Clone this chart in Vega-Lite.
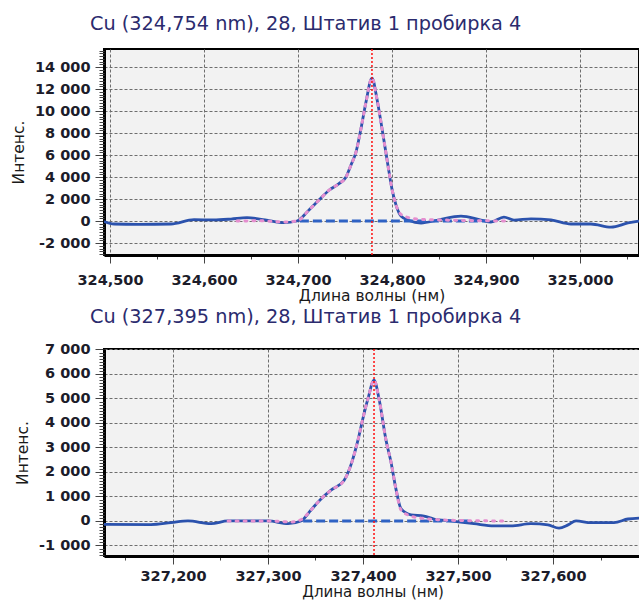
{
  "$schema": "https://vega.github.io/schema/vega-lite/v6.json",
  "padding": {"left": 10, "top": 13, "right": 0, "bottom": 0},
  "background": "#ffffff",
  "datasets": {
    "s1": [
      {"nm": 324.4936, "i": -50}, {"nm": 324.5043, "i": -270}, {"nm": 324.53, "i": -300}, {"nm": 324.5649, "i": -270},
      {"nm": 324.5894, "i": 120}, {"nm": 324.61, "i": 100}, {"nm": 324.6287, "i": 180}, {"nm": 324.6457, "i": 300},
      {"nm": 324.665, "i": 100}, {"nm": 324.6851, "i": -150}, {"nm": 324.6989, "i": 0}, {"nm": 324.7117, "i": 1000},
      {"nm": 324.7223, "i": 1900}, {"nm": 324.733, "i": 2800}, {"nm": 324.7436, "i": 3400}, {"nm": 324.7511, "i": 4000},
      {"nm": 324.7564, "i": 5100}, {"nm": 324.7617, "i": 6270}, {"nm": 324.767, "i": 8400}, {"nm": 324.7723, "i": 10800},
      {"nm": 324.7787, "i": 13000}, {"nm": 324.784, "i": 11100}, {"nm": 324.7894, "i": 8400}, {"nm": 324.7947, "i": 5600},
      {"nm": 324.8, "i": 2900}, {"nm": 324.8043, "i": 1450}, {"nm": 324.8096, "i": 450}, {"nm": 324.8181, "i": 50},
      {"nm": 324.8309, "i": -180}, {"nm": 324.8489, "i": 90}, {"nm": 324.8734, "i": 450}, {"nm": 324.8947, "i": 90},
      {"nm": 324.9053, "i": -90}, {"nm": 324.9191, "i": 360}, {"nm": 324.9298, "i": 90}, {"nm": 324.9479, "i": 200},
      {"nm": 324.9691, "i": 100}, {"nm": 324.9904, "i": -270}, {"nm": 325.0117, "i": -270}, {"nm": 325.033, "i": -550},
      {"nm": 325.0511, "i": -180}, {"nm": 325.0628, "i": 0}
    ],
    "f1": [
      {"nm": 324.635, "i": 0}, {"nm": 324.66, "i": 20}, {"nm": 324.685, "i": -90}, {"nm": 324.6989, "i": 0},
      {"nm": 324.7117, "i": 1000}, {"nm": 324.7223, "i": 1900}, {"nm": 324.733, "i": 2800}, {"nm": 324.7436, "i": 3400},
      {"nm": 324.7511, "i": 4000}, {"nm": 324.7564, "i": 5100}, {"nm": 324.7617, "i": 6270}, {"nm": 324.767, "i": 8400},
      {"nm": 324.7723, "i": 10800}, {"nm": 324.7787, "i": 13000}, {"nm": 324.784, "i": 11100}, {"nm": 324.7894, "i": 8400},
      {"nm": 324.7947, "i": 5600}, {"nm": 324.8, "i": 2900}, {"nm": 324.8043, "i": 1450}, {"nm": 324.8096, "i": 600},
      {"nm": 324.8181, "i": 300}, {"nm": 324.8309, "i": 150}, {"nm": 324.85, "i": 100}, {"nm": 324.875, "i": 50},
      {"nm": 324.9, "i": 20}, {"nm": 324.925, "i": 0}
    ],
    "b1": [{"nm": 324.702, "i": 0}, {"nm": 324.9, "i": 0}],
    "m1": [{"nm": 324.7787}],
    "s2": [
      {"nm": 327.1274, "i": -135}, {"nm": 327.1768, "i": -150}, {"nm": 327.1979, "i": -70}, {"nm": 327.2158, "i": 0},
      {"nm": 327.24, "i": -110}, {"nm": 327.2579, "i": 0}, {"nm": 327.3, "i": 0}, {"nm": 327.3211, "i": -110},
      {"nm": 327.3347, "i": 0}, {"nm": 327.3453, "i": 450}, {"nm": 327.3558, "i": 900}, {"nm": 327.3663, "i": 1260},
      {"nm": 327.38, "i": 1650}, {"nm": 327.3874, "i": 2300}, {"nm": 327.3947, "i": 3300}, {"nm": 327.4, "i": 4200},
      {"nm": 327.4053, "i": 5000}, {"nm": 327.4116, "i": 5750}, {"nm": 327.4168, "i": 5000}, {"nm": 327.4242, "i": 3300},
      {"nm": 327.4295, "i": 2400}, {"nm": 327.4347, "i": 1300}, {"nm": 327.44, "i": 500}, {"nm": 327.4505, "i": 250},
      {"nm": 327.4642, "i": 200}, {"nm": 327.4747, "i": 80}, {"nm": 327.4926, "i": 0}, {"nm": 327.5168, "i": -110},
      {"nm": 327.5379, "i": -200}, {"nm": 327.5558, "i": -200}, {"nm": 327.5768, "i": -110}, {"nm": 327.5947, "i": -160},
      {"nm": 327.6063, "i": -290}, {"nm": 327.6158, "i": -160}, {"nm": 327.6242, "i": 0}, {"nm": 327.64, "i": -70},
      {"nm": 327.6642, "i": -70}, {"nm": 327.6789, "i": 80}, {"nm": 327.6926, "i": 120}
    ],
    "f2": [
      {"nm": 327.258, "i": 0}, {"nm": 327.3, "i": 0}, {"nm": 327.325, "i": -40}, {"nm": 327.3347, "i": 50},
      {"nm": 327.3453, "i": 450}, {"nm": 327.3558, "i": 900}, {"nm": 327.3663, "i": 1260}, {"nm": 327.38, "i": 1650},
      {"nm": 327.3874, "i": 2300}, {"nm": 327.3947, "i": 3300}, {"nm": 327.4, "i": 4200}, {"nm": 327.4053, "i": 5000},
      {"nm": 327.4116, "i": 5750}, {"nm": 327.4168, "i": 5000}, {"nm": 327.4242, "i": 3300}, {"nm": 327.4295, "i": 2400},
      {"nm": 327.4347, "i": 1300}, {"nm": 327.44, "i": 450}, {"nm": 327.4505, "i": 200}, {"nm": 327.4642, "i": 100},
      {"nm": 327.48, "i": 50}, {"nm": 327.5, "i": 20}, {"nm": 327.553, "i": 0}
    ],
    "b2": [{"nm": 327.337, "i": 0}, {"nm": 327.514, "i": 0}],
    "m2": [{"nm": 327.4116}]
  },
  "config": {
    "font": "DejaVu Sans",
    "view": {"stroke": "#000000", "strokeWidth": 2, "fill": "#f2f2f2"},
    "axis": {
      "domainColor": "#000000", "domainWidth": 3, "tickColor": "#444444", "tickWidth": 1,
      "gridColor": "#6e6e6e", "gridDash": [3, 2], "gridWidth": 1,
      "labelFont": "DejaVu Sans", "labelFontSize": 14.5, "labelFontWeight": "bold", "labelColor": "#1c1c2a",
      "titleFont": "DejaVu Sans", "titleFontSize": 15.5, "titleFontWeight": "normal", "titleColor": "#1a1a1a",
      "labelOverlap": false, "labelFlush": false, "labelBound": false
    },
    "title": {"font": "DejaVu Sans", "fontSize": 19.3, "fontWeight": "normal", "color": "#2b2b6e", "anchor": "start", "frame": "group", "dx": -14, "offset": 14},
    "concat": {"spacing": 2}
  },
  "vconcat": [
    {
      "title": "Cu (324,754 nm), 28, Штатив 1 пробирка 4",
      "width": 535,
      "height": 206,
      "resolve": {"axis": {"y": "independent"}},
      "layer": [
        {
          "data": {"name": "s1"},
          "mark": {"type": "line", "color": "#2b52ad", "strokeWidth": 2.8, "interpolate": "monotone", "clip": true},
          "encoding": {
            "x": {"field": "nm", "type": "quantitative", "scale": {"domain": [324.4936, 325.0628], "nice": false, "zero": false},
              "axis": {
                "title": "Длина волны (нм)", "titlePadding": 2, "labelOverlap": false,
                "values": [324.5, 324.525, 324.55, 324.575, 324.6, 324.625, 324.65, 324.675, 324.7, 324.725, 324.75, 324.775, 324.8, 324.825, 324.85, 324.875, 324.9, 324.925, 324.95, 324.975, 325.0, 325.025, 325.05],
                "labelExpr": "abs(datum.value*10 - round(datum.value*10)) < 0.01 ? replace(format(datum.value, '.3f'), '.', ',') : ''",
                "gridOpacity": {"condition": {"test": "abs(datum.value*10 - round(datum.value*10)) < 0.01", "value": 1}, "value": 0},
                "tickSize": {"condition": {"test": "abs(datum.value*10 - round(datum.value*10)) < 0.01", "value": 8}, "value": 4},
                "labelPadding": 10
              }},
            "y": {"field": "i", "type": "quantitative", "scale": {"domain": [-3090, 15640], "nice": false, "zero": false},
              "axis": {
                "orient": "left", "title": "Интенс.", "titlePadding": 8, "labelOverlap": false,
                "values": [-2000, 0, 2000, 4000, 6000, 8000, 10000, 12000, 14000],
                "labelExpr": "datum.value == 0 ? '0' : (datum.value < 0 ? '-' : '') + floor(abs(datum.value)/1000) + ' 000'",
                "tickSize": 9, "labelPadding": 5
              }}
          }
        },
        {
          "data": {"name": "b1"},
          "mark": {"type": "line", "color": "#2f62c4", "strokeWidth": 3, "strokeDash": [9, 4]},
          "encoding": {"x": {"field": "nm", "type": "quantitative"},
            "y": {"field": "i", "type": "quantitative",
              "axis": {"orient": "left", "title": null, "labels": false, "grid": false, "domain": false, "tickSize": 5,
                "values": [-3000, -2750, -2500, -2250, -1750, -1500, -1250, -1000, -750, -500, -250, 250, 500, 750, 1000, 1250, 1500, 1750, 2250, 2500, 2750, 3000, 3250, 3500, 3750, 4250, 4500, 4750, 5000, 5250, 5500, 5750, 6250, 6500, 6750, 7000, 7250, 7500, 7750, 8250, 8500, 8750, 9000, 9250, 9500, 9750, 10250, 10500, 10750, 11000, 11250, 11500, 11750, 12250, 12500, 12750, 13000, 13250, 13500, 13750, 14250, 14500, 14750, 15000, 15250, 15500]}}}
        },
        {
          "data": {"name": "f1"},
          "mark": {"type": "line", "color": "#e58fcf", "strokeWidth": 3, "strokeDash": [2, 6], "strokeCap": "round", "interpolate": "monotone"},
          "encoding": {"x": {"field": "nm", "type": "quantitative"}, "y": {"field": "i", "type": "quantitative", "axis": null}}
        },
        {
          "data": {"name": "m1"},
          "mark": {"type": "rule", "color": "#ff1010", "strokeWidth": 1.5, "strokeDash": [2, 2]},
          "encoding": {"x": {"field": "nm", "type": "quantitative"}}
        }
      ]
    },
    {
      "title": "Cu (327,395 nm), 28, Штатив 1 пробирка 4",
      "width": 537,
      "height": 207,
      "resolve": {"axis": {"y": "independent"}},
      "layer": [
        {
          "data": {"name": "s2"},
          "mark": {"type": "line", "color": "#2b52ad", "strokeWidth": 2.8, "interpolate": "monotone", "clip": true},
          "encoding": {
            "x": {"field": "nm", "type": "quantitative", "scale": {"domain": [327.1274, 327.6926], "nice": false, "zero": false},
              "axis": {
                "title": "Длина волны (нм)", "titlePadding": 2, "titleFontSize": 15, "labelOverlap": false,
                "values": [327.15, 327.175, 327.2, 327.225, 327.25, 327.275, 327.3, 327.325, 327.35, 327.375, 327.4, 327.425, 327.45, 327.475, 327.5, 327.525, 327.55, 327.575, 327.6, 327.625, 327.65, 327.675],
                "labelExpr": "abs(datum.value*10 - round(datum.value*10)) < 0.01 ? replace(format(datum.value, '.3f'), '.', ',') : ''",
                "gridOpacity": {"condition": {"test": "abs(datum.value*10 - round(datum.value*10)) < 0.01", "value": 1}, "value": 0},
                "tickSize": {"condition": {"test": "abs(datum.value*10 - round(datum.value*10)) < 0.01", "value": 8}, "value": 4},
                "labelPadding": 5
              }},
            "y": {"field": "i", "type": "quantitative", "scale": {"domain": [-1430, 7020], "nice": false, "zero": false},
              "axis": {
                "orient": "left", "title": "Интенс.", "titlePadding": 8, "labelOverlap": false,
                "values": [-1000, 0, 1000, 2000, 3000, 4000, 5000, 6000, 7000],
                "labelExpr": "datum.value == 0 ? '0' : (datum.value < 0 ? '-' : '') + floor(abs(datum.value)/1000) + ' 000'",
                "tickSize": 9, "labelPadding": 5
              }}
          }
        },
        {
          "data": {"name": "b2"},
          "mark": {"type": "line", "color": "#2f62c4", "strokeWidth": 3, "strokeDash": [9, 4]},
          "encoding": {"x": {"field": "nm", "type": "quantitative"},
            "y": {"field": "i", "type": "quantitative",
              "axis": {"orient": "left", "title": null, "labels": false, "grid": false, "domain": false, "tickSize": 5,
                "values": [-1375, -1250, -1125, -875, -750, -625, -500, -375, -250, -125, 125, 250, 375, 500, 625, 750, 875, 1125, 1250, 1375, 1500, 1625, 1750, 1875, 2125, 2250, 2375, 2500, 2625, 2750, 2875, 3125, 3250, 3375, 3500, 3625, 3750, 3875, 4125, 4250, 4375, 4500, 4625, 4750, 4875, 5125, 5250, 5375, 5500, 5625, 5750, 5875, 6125, 6250, 6375, 6500, 6625, 6750, 6875]}}}
        },
        {
          "data": {"name": "f2"},
          "mark": {"type": "line", "color": "#e58fcf", "strokeWidth": 3, "strokeDash": [2, 6], "strokeCap": "round", "interpolate": "monotone"},
          "encoding": {"x": {"field": "nm", "type": "quantitative"}, "y": {"field": "i", "type": "quantitative", "axis": null}}
        },
        {
          "data": {"name": "m2"},
          "mark": {"type": "rule", "color": "#ff1010", "strokeWidth": 1.5, "strokeDash": [2, 2]},
          "encoding": {"x": {"field": "nm", "type": "quantitative"}}
        }
      ]
    }
  ]
}
